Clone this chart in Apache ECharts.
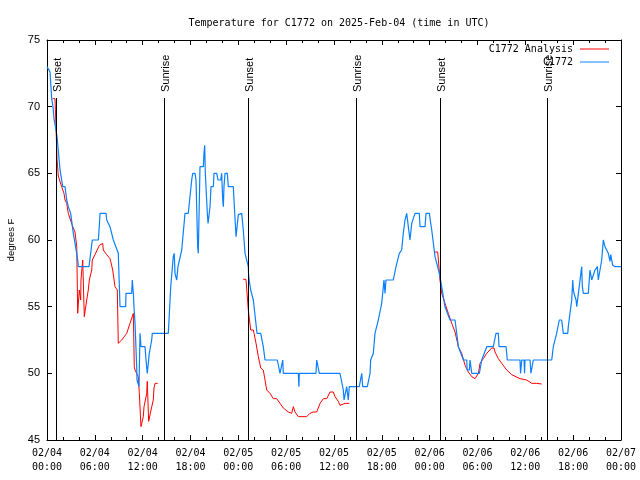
<!DOCTYPE html>
<html>
<head>
<meta charset="utf-8">
<script src="https://cdn.jsdelivr.net/npm/echarts@6/dist/echarts.min.js"></script>
<style>html,body{margin:0;padding:0;background:#fff;}#chart{width:640px;height:480px;}</style>
</head>
<body>
<div id="chart"></div>
<script>
// hours since 2025-02-04 00:00 UTC, temperature (deg F)
const observed = [
[0,73],[0.25,73],[0.38,72.6],[0.59,70.6],[0.72,70.6],[0.75,70],[0.88,69.1],[1.0,69],[1.25,67.8],[1.63,65.3],[1.72,65.2],[1.97,64],[2.26,64],[2.47,63],[2.67,62.5],[2.97,62],[3.30,60.5],[3.73,59],[3.85,58.5],[3.93,58],[5.27,58],[5.68,60],[6.44,60],[6.56,61],[6.65,62],[7.40,62],[7.49,61.5],[7.90,61],[8.32,60],[8.53,60],[8.94,59],[9.16,55],[9.87,55],[9.91,56],[10.62,56],[10.70,57],[10.83,56],[10.91,55],[11.04,53.8],[11.25,50.5],[11.29,49.5],[11.54,49],[11.67,53],[11.79,52],[12.29,52],[12.42,51],[12.58,50],[12.83,51.5],[13.13,52.5],[13.21,53],[15.22,53],[15.52,56.5],[15.84,58.75],[15.96,59],[16.06,57.5],[16.27,57],[16.43,58],[16.90,59.25],[17.31,62],[17.72,62],[18.15,64.5],[18.28,65],[18.57,65],[18.69,64.5],[18.90,59.5],[18.98,59],[19.19,65.5],[19.61,65.5],[19.69,66.5],[19.78,67.1],[19.86,65],[20.11,62],[20.20,61.25],[20.45,62.5],[20.57,64],[20.86,64],[20.95,65],[21.29,65],[21.45,64.5],[21.79,64.5],[21.91,65],[22.04,63],[22.12,62.5],[22.20,64],[22.33,65],[22.62,65],[22.74,64],[23.37,64],[23.71,60.25],[24.00,61.9],[24.12,62],[24.42,62],[24.62,60.75],[24.84,59],[25.25,58],[25.30,57.25],[25.55,56.25],[25.88,55.5],[26.30,53.25],[26.35,53],[26.81,53],[27.13,52],[27.35,51],[28.89,51],[29.23,50],[29.40,50],[29.57,51],[29.64,50],[31.52,50],[31.60,49],[31.65,50],[33.74,50],[33.83,51],[34.03,51],[34.16,50],[36.75,50],[37.17,48.75],[37.26,48],[37.51,48],[37.59,49],[37.79,48],[37.92,49],[39.17,49],[39.48,50],[39.60,49],[40.18,49],[40.52,50],[40.60,51],[40.93,51.5],[41.14,53],[41.56,54],[41.98,55.25],[42.19,56.5],[42.27,57],[42.40,56],[42.52,57],[43.44,57],[43.78,58],[44.19,59],[44.49,59.25],[44.69,60.5],[44.91,61.5],[45.12,62],[45.32,61],[45.53,60],[45.75,61.25],[46.16,62],[46.70,62],[46.79,61],[47.42,61],[47.54,62],[47.96,62],[48.13,61.25],[48.26,60.75],[48.67,58.75],[49.21,57.5],[49.51,56.5],[49.92,55],[50.55,54],[51.18,54],[51.60,52],[52.23,51],[52.65,51],[52.70,50.25],[52.98,50.25],[53.06,51],[53.28,50],[54.23,50],[54.53,51],[55.16,52],[55.98,52],[56.32,53],[56.61,53],[56.70,52],[57.58,52],[57.74,51],[59.33,51],[59.40,50],[59.55,51],[59.84,51],[59.90,50],[59.96,51],[60.59,51],[60.70,50],[60.95,50],[61.00,51],[63.31,51],[63.51,52],[63.93,53],[64.26,54],[64.56,54],[64.76,53],[65.32,53],[65.39,53.5],[65.60,54.5],[65.82,55.5],[65.95,57],[66.02,56.25],[66.11,56],[66.36,55.5],[66.45,55],[66.65,55],[67.07,58],[67.15,56.5],[67.28,56],[67.90,56],[68.11,57.75],[68.33,57],[68.53,57],[68.74,57.75],[69.03,58],[69.15,57],[69.37,57],[69.58,58.5],[69.78,60],[69.99,59.5],[70.41,59],[70.62,58.4],[70.71,58.9],[70.83,58.9],[70.96,58.1],[71.25,58],[72,58]
];
const analysisNight1 = [
[0.72,70.6],[1.0,70.6],[1.13,68.5],[1.25,66.1],[1.42,64.8],[1.84,64],[2.13,63.5],[2.26,63],[2.47,62.75],[2.67,62],[3.17,61.1],[3.51,60.6],[3.73,59.5],[3.85,54.5],[3.93,54.5],[4.05,56.25],[4.23,55.5],[4.26,57],[4.48,58.5],[4.64,58.5],[4.68,54.25],[4.89,54.25],[4.98,55.5],[5.18,56.25],[5.31,57],[5.61,57.75],[5.68,58.5],[6.02,58.9],[6.56,59.6],[6.65,59.75],[6.99,59.75],[7.06,59.25],[7.49,58.9],[7.90,58.6],[7.99,58.4],[8.24,57.75],[8.53,56.5],[8.82,56.25],[8.94,52.25],[9.37,52.5],[10.00,53],[10.41,53.75],[10.83,54.5],[10.95,50.5],[11.04,50.25],[11.45,49.75],[11.58,48.5],[11.79,46],[12.08,46.75],[12.17,47.5],[12.51,48.5],[12.58,49.4],[12.71,49.4],[12.75,46.4],[12.92,46.25],[13.05,47.25],[13.33,48],[13.42,48.9],[13.55,49.25],[13.89,49.25]
];
const analysisNight2 = [
[24.62,57.05],[24.96,57.05],[25.25,54.75],[25.55,53.25],[25.88,53.25],[25.97,53],[26.22,52.25],[26.51,51.25],[26.81,50.4],[26.93,50.25],[27.13,50.25],[27.35,49.5],[27.56,48.75],[27.97,48.5],[28.39,48.1],[28.81,48.1],[29.23,47.75],[29.64,47.4],[30.27,47.1],[30.69,47],[30.90,47.5],[31.11,47.1],[31.32,47.1],[31.52,46.75],[31.74,46.6],[32.58,46.75],[32.78,46.6],[32.99,47],[33.40,47.1],[33.83,47.1],[34.25,47.75],[34.66,48.1],[35.09,48.1],[35.50,48.6],[35.91,48.6],[36.13,48.25],[36.54,47.9],[36.75,47.6],[36.97,47.6],[37.38,47.75],[37.92,47.75]
];
const analysisNight3 = [
[48.67,59.1],[49.01,59.1],[49.30,57],[49.51,56],[49.92,55.25],[50.34,54.5],[50.77,53.75],[51.18,53.1],[51.60,52],[52.02,51.5],[52.44,50.6],[52.85,50.1],[53.28,49.75],[53.69,49.6],[53.90,49.75],[54.11,50],[54.32,50.75],[54.73,51.1],[55.16,51.5],[55.78,51.9],[56.07,51.9],[56.20,51.6],[56.61,51.1],[57.04,50.75],[57.66,50.25],[58.29,49.9],[58.49,49.75],[59.33,49.6],[59.55,49.5],[60.17,49.5],[60.80,49.25],[61.43,49.25],[62.05,49.2]
];
const sunHours = [1.13, 14.71, 25.25, 38.70, 49.33, 62.76];
const sunLabels = ['Sunset', 'Sunrise', 'Sunset', 'Sunrise', 'Sunset', 'Sunrise'];
const sunLineTop = 70.65;
const yMin = 45, yMax = 75, yStep = 5;
const xMin = 0, xMax = 72, xStep = 6;

const analysis = analysisNight1.concat([[14.5, '-']], analysisNight2, [[40, '-']], analysisNight3);

const mono = '"DejaVu Sans Mono", "Liberation Mono", monospace';
const sans = '"Liberation Sans", Arial, sans-serif';

function xLabel(v) {
  if (v % 6 !== 0) return '';
  const day = 4 + Math.floor(v / 24);
  const hh = v % 24;
  return '02/0' + day + '\n' + String(hh).padStart(2, '0') + ':00';
}

const chart = echarts.init(document.getElementById('chart'), null, {renderer: 'canvas'});
const axisLineStyle = {color: '#000', width: 1};
chart.setOption({
  animation: false,
  backgroundColor: '#fff',
  title: {
    text: 'Temperature for C1772 on 2025-Feb-04 (time in UTC)',
    left: 334, top: 13, textAlign: 'center',
    textStyle: {fontFamily: mono, fontSize: 10, fontWeight: 'normal', color: '#000'}
  },
  legend: {
    orient: 'vertical', right: 26, top: 38, align: 'right',
    itemWidth: 29, itemHeight: 1, itemGap: 1, icon: 'rect',
    data: ['C1772 Analysis', 'C1772'],
    textStyle: {fontFamily: mono, fontSize: 10, color: '#000', lineHeight: 12, padding: [0, 2, 0, 0]}
  },
  grid: {left: 47, right: 19, top: 40, bottom: 40, containLabel: false, outerBoundsMode: 'none'},
  xAxis: [{
    type: 'value', min: xMin, max: xMax, interval: xStep,
    axisLine: {show: true, onZero: false, lineStyle: axisLineStyle},
    axisTick: {show: true, inside: true, length: 5, lineStyle: axisLineStyle},
    minorTick: {show: true, splitNumber: 3, length: 3, lineStyle: axisLineStyle},
    splitLine: {show: false},
    axisLabel: {formatter: xLabel, fontFamily: mono, fontSize: 10, color: '#000', lineHeight: 14, margin: 6}
  }, {
    type: 'value', min: xMin, max: xMax, interval: xStep, position: 'top',
    axisLine: {show: true, onZero: false, lineStyle: axisLineStyle},
    axisTick: {show: true, inside: true, length: 5, lineStyle: axisLineStyle},
    minorTick: {show: true, splitNumber: 3, length: 3, lineStyle: axisLineStyle},
    splitLine: {show: false},
    axisLabel: {show: false}
  }],
  yAxis: [{
    type: 'value', min: yMin, max: yMax, interval: yStep,
    name: 'degrees F', nameLocation: 'middle', nameGap: 31, nameRotate: 90,
    nameTextStyle: {fontFamily: sans, fontSize: 9.5, color: '#000'},
    axisLine: {show: true, onZero: false, lineStyle: axisLineStyle},
    axisTick: {show: true, inside: true, length: 5, lineStyle: axisLineStyle},
    splitLine: {show: false},
    axisLabel: {fontFamily: sans, fontSize: 11, color: '#000', margin: 7}
  }, {
    type: 'value', min: yMin, max: yMax, interval: yStep, position: 'right',
    axisLine: {show: true, onZero: false, lineStyle: axisLineStyle},
    axisTick: {show: true, inside: true, length: 5, lineStyle: axisLineStyle},
    splitLine: {show: false},
    axisLabel: {show: false}
  }],
  series: [{
    name: 'C1772 Analysis', type: 'line', xAxisIndex: 0, yAxisIndex: 0,
    data: analysis, showSymbol: false, symbol: 'none', connectNulls: false,
    itemStyle: {color: '#ff0000'},
    lineStyle: {color: '#ff0000', width: 1}, z: 3
  }, {
    name: 'C1772', type: 'line', xAxisIndex: 0, yAxisIndex: 0,
    data: observed, showSymbol: false, symbol: 'none',
    itemStyle: {color: '#0a80ff'},
    lineStyle: {color: '#0a80ff', width: 1.2}, z: 4
  }, {
    name: 'sun', type: 'custom', xAxisIndex: 0, yAxisIndex: 0,
    data: sunHours.map(h => [h, sunLineTop]),
    clip: false, z: 5,
    renderItem: function (params, api) {
      const h = api.value(0);
      const top = api.coord([h, api.value(1)]);
      const bot = api.coord([h, yMin]);
      const x = Math.round(top[0]) + 0.5;
      return {
        type: 'group',
        children: [{
          type: 'line',
          shape: {x1: x, y1: Math.round(top[1]), x2: x, y2: bot[1]},
          style: {stroke: '#000', lineWidth: 1}
        }, {
          type: 'text',
          x: x + 1, y: Math.round(top[1]) - 6,
          rotation: Math.PI / 2,
          style: {
            text: sunLabels[params.dataIndex], fill: '#000',
            font: '11px ' + sans,
            align: 'left', verticalAlign: 'middle',
            textAlign: 'left', textVerticalAlign: 'middle'
          }
        }]
      };
    }
  }]
});
</script>
</body>
</html>
